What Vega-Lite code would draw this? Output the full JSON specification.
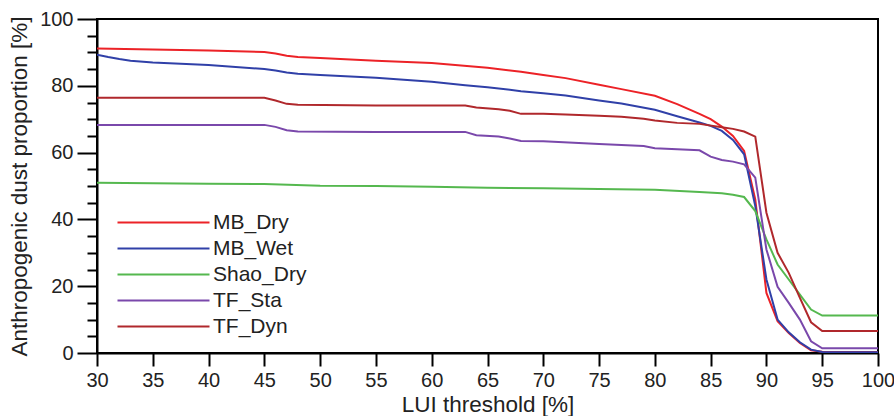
{
  "$schema": "https://vega.github.io/schema/vega-lite/v6.json",
  "width": 781,
  "height": 334,
  "autosize": "none",
  "padding": {"left": 97, "top": 19, "right": 16, "bottom": 63},
  "background": "white",
  "config": {"view": {"stroke": "black", "strokeWidth": 2}, "font": "Liberation Sans"},
  "data": {"values": [
    {"series":"MB_Dry","lui":30,"share":91.2},{"series":"MB_Dry","lui":35,"share":90.9},{"series":"MB_Dry","lui":40,"share":90.6},{"series":"MB_Dry","lui":45,"share":90.1},{"series":"MB_Dry","lui":46,"share":89.7},{"series":"MB_Dry","lui":47,"share":89.0},{"series":"MB_Dry","lui":48,"share":88.6},{"series":"MB_Dry","lui":50,"share":88.3},{"series":"MB_Dry","lui":55,"share":87.5},{"series":"MB_Dry","lui":60,"share":86.8},{"series":"MB_Dry","lui":65,"share":85.4},{"series":"MB_Dry","lui":68,"share":84.2},{"series":"MB_Dry","lui":70,"share":83.2},{"series":"MB_Dry","lui":72,"share":82.3},{"series":"MB_Dry","lui":75,"share":80.3},{"series":"MB_Dry","lui":77,"share":79.0},{"series":"MB_Dry","lui":80,"share":77.0},{"series":"MB_Dry","lui":82,"share":74.5},{"series":"MB_Dry","lui":84,"share":71.6},{"series":"MB_Dry","lui":85,"share":70.0},{"series":"MB_Dry","lui":86,"share":67.8},{"series":"MB_Dry","lui":87,"share":65.0},{"series":"MB_Dry","lui":88,"share":60.5},{"series":"MB_Dry","lui":89,"share":46},{"series":"MB_Dry","lui":90,"share":18},{"series":"MB_Dry","lui":91,"share":9.5},{"series":"MB_Dry","lui":92,"share":6},{"series":"MB_Dry","lui":93,"share":3},{"series":"MB_Dry","lui":94,"share":0.8},{"series":"MB_Dry","lui":95,"share":0.4},{"series":"MB_Dry","lui":100,"share":0.3},
    {"series":"MB_Wet","lui":30,"share":89.3},{"series":"MB_Wet","lui":31,"share":88.6},{"series":"MB_Wet","lui":32,"share":88.0},{"series":"MB_Wet","lui":33,"share":87.5},{"series":"MB_Wet","lui":35,"share":87.0},{"series":"MB_Wet","lui":38,"share":86.5},{"series":"MB_Wet","lui":40,"share":86.2},{"series":"MB_Wet","lui":45,"share":85.0},{"series":"MB_Wet","lui":46,"share":84.6},{"series":"MB_Wet","lui":47,"share":84.0},{"series":"MB_Wet","lui":48,"share":83.6},{"series":"MB_Wet","lui":50,"share":83.2},{"series":"MB_Wet","lui":55,"share":82.4},{"series":"MB_Wet","lui":60,"share":81.2},{"series":"MB_Wet","lui":63,"share":80.2},{"series":"MB_Wet","lui":65,"share":79.6},{"series":"MB_Wet","lui":68,"share":78.4},{"series":"MB_Wet","lui":70,"share":77.8},{"series":"MB_Wet","lui":72,"share":77.1},{"series":"MB_Wet","lui":75,"share":75.6},{"series":"MB_Wet","lui":77,"share":74.7},{"series":"MB_Wet","lui":80,"share":72.8},{"series":"MB_Wet","lui":82,"share":70.9},{"series":"MB_Wet","lui":84,"share":69.0},{"series":"MB_Wet","lui":85,"share":68.0},{"series":"MB_Wet","lui":86,"share":66.5},{"series":"MB_Wet","lui":87,"share":63.8},{"series":"MB_Wet","lui":88,"share":59.5},{"series":"MB_Wet","lui":89,"share":44},{"series":"MB_Wet","lui":90,"share":22},{"series":"MB_Wet","lui":91,"share":10},{"series":"MB_Wet","lui":92,"share":6.2},{"series":"MB_Wet","lui":93,"share":3.2},{"series":"MB_Wet","lui":94,"share":1},{"series":"MB_Wet","lui":95,"share":0.3},{"series":"MB_Wet","lui":100,"share":0.2},
    {"series":"Shao_Dry","lui":30,"share":51.0},{"series":"Shao_Dry","lui":35,"share":50.8},{"series":"Shao_Dry","lui":40,"share":50.7},{"series":"Shao_Dry","lui":45,"share":50.6},{"series":"Shao_Dry","lui":50,"share":50.1},{"series":"Shao_Dry","lui":55,"share":50.0},{"series":"Shao_Dry","lui":60,"share":49.8},{"series":"Shao_Dry","lui":65,"share":49.5},{"series":"Shao_Dry","lui":70,"share":49.3},{"series":"Shao_Dry","lui":75,"share":49.1},{"series":"Shao_Dry","lui":80,"share":48.9},{"series":"Shao_Dry","lui":84,"share":48.2},{"series":"Shao_Dry","lui":86,"share":47.8},{"series":"Shao_Dry","lui":87,"share":47.4},{"series":"Shao_Dry","lui":88,"share":46.7},{"series":"Shao_Dry","lui":89,"share":42.5},{"series":"Shao_Dry","lui":90,"share":34},{"series":"Shao_Dry","lui":91,"share":26.5},{"series":"Shao_Dry","lui":92,"share":22},{"series":"Shao_Dry","lui":93,"share":17.5},{"series":"Shao_Dry","lui":94,"share":13},{"series":"Shao_Dry","lui":95,"share":11.2},{"series":"Shao_Dry","lui":100,"share":11.2},
    {"series":"TF_Sta","lui":30,"share":68.3},{"series":"TF_Sta","lui":45,"share":68.3},{"series":"TF_Sta","lui":46,"share":67.7},{"series":"TF_Sta","lui":47,"share":66.7},{"series":"TF_Sta","lui":48,"share":66.3},{"series":"TF_Sta","lui":55,"share":66.2},{"series":"TF_Sta","lui":63,"share":66.2},{"series":"TF_Sta","lui":64,"share":65.2},{"series":"TF_Sta","lui":66,"share":64.8},{"series":"TF_Sta","lui":67,"share":64.2},{"series":"TF_Sta","lui":68,"share":63.5},{"series":"TF_Sta","lui":70,"share":63.4},{"series":"TF_Sta","lui":75,"share":62.6},{"series":"TF_Sta","lui":79,"share":62.0},{"series":"TF_Sta","lui":80,"share":61.3},{"series":"TF_Sta","lui":84,"share":60.7},{"series":"TF_Sta","lui":85,"share":58.8},{"series":"TF_Sta","lui":86,"share":57.8},{"series":"TF_Sta","lui":87,"share":57.3},{"series":"TF_Sta","lui":88,"share":56.5},{"series":"TF_Sta","lui":89,"share":52.5},{"series":"TF_Sta","lui":90,"share":31},{"series":"TF_Sta","lui":91,"share":19.8},{"series":"TF_Sta","lui":92,"share":15},{"series":"TF_Sta","lui":93,"share":10},{"series":"TF_Sta","lui":94,"share":3.5},{"series":"TF_Sta","lui":95,"share":1.4},{"series":"TF_Sta","lui":100,"share":1.4},
    {"series":"TF_Dyn","lui":30,"share":76.4},{"series":"TF_Dyn","lui":45,"share":76.4},{"series":"TF_Dyn","lui":46,"share":75.6},{"series":"TF_Dyn","lui":47,"share":74.6},{"series":"TF_Dyn","lui":48,"share":74.3},{"series":"TF_Dyn","lui":55,"share":74.1},{"series":"TF_Dyn","lui":63,"share":74.1},{"series":"TF_Dyn","lui":64,"share":73.5},{"series":"TF_Dyn","lui":66,"share":73.0},{"series":"TF_Dyn","lui":67,"share":72.5},{"series":"TF_Dyn","lui":68,"share":71.6},{"series":"TF_Dyn","lui":70,"share":71.6},{"series":"TF_Dyn","lui":72,"share":71.4},{"series":"TF_Dyn","lui":75,"share":71.0},{"series":"TF_Dyn","lui":77,"share":70.7},{"series":"TF_Dyn","lui":79,"share":70.1},{"series":"TF_Dyn","lui":80,"share":69.6},{"series":"TF_Dyn","lui":82,"share":68.9},{"series":"TF_Dyn","lui":84,"share":68.6},{"series":"TF_Dyn","lui":86,"share":67.6},{"series":"TF_Dyn","lui":87,"share":67.1},{"series":"TF_Dyn","lui":88,"share":66.3},{"series":"TF_Dyn","lui":89,"share":64.8},{"series":"TF_Dyn","lui":90,"share":42},{"series":"TF_Dyn","lui":91,"share":30},{"series":"TF_Dyn","lui":92,"share":24},{"series":"TF_Dyn","lui":93,"share":16.5},{"series":"TF_Dyn","lui":94,"share":9.2},{"series":"TF_Dyn","lui":95,"share":6.6},{"series":"TF_Dyn","lui":100,"share":6.6}
  ]},
  "mark": {"type": "line", "strokeWidth": 2, "clip": true},
  "encoding": {
    "x": {
      "field": "lui", "type": "quantitative",
      "scale": {"domain": [30, 100], "nice": false, "zero": false},
      "axis": {
        "title": "LUI threshold [%]",
        "values": [30,35,40,45,50,55,60,65,70,75,80,85,90,95,100],
        "grid": false, "labelFlush": false,
        "domainColor": "black", "domainWidth": 2,
        "tickColor": "black", "tickWidth": 2, "tickSize": 13,
        "labelFontSize": 20, "labelColor": "#222", "labelPadding": 4,
        "titleFontSize": 22.5, "titleFontWeight": "normal", "titleColor": "#222", "titlePadding": 3
      }
    },
    "y": {
      "field": "share", "type": "quantitative",
      "scale": {"domain": [0, 100], "nice": false},
      "axis": {
        "title": "Anthropogenic dust proportion [%]",
        "values": [0,5,10,15,20,25,30,35,40,45,50,55,60,65,70,75,80,85,90,95,100],
        "labelExpr": "datum.value % 20 === 0 ? datum.label : ''",
        "grid": false,
        "domainColor": "black", "domainWidth": 2,
        "tickColor": "black", "tickWidth": 2,
        "tickSize": {"condition": {"test": "datum.value % 20 === 0", "value": 20}, "value": 10},
        "labelFontSize": 20, "labelColor": "#222", "labelPadding": 4,
        "titleFontSize": 22.5, "titleFontWeight": "normal", "titleColor": "#222", "titlePadding": 8
      }
    },
    "color": {
      "field": "series", "type": "nominal",
      "scale": {
        "domain": ["MB_Dry", "MB_Wet", "Shao_Dry", "TF_Sta", "TF_Dyn"],
        "range": ["#ec2227", "#3040a8", "#55b84f", "#7a48ab", "#b0282c"]
      },
      "legend": {
        "orient": "none", "legendX": 56, "legendY": 193,
        "title": null, "padding": 0,
        "symbolType": "M-10,0H10", "symbolSize": 84.64, "symbolStrokeWidth": 2,
        "labelOffset": 39, "labelFontSize": 21, "labelColor": "#222",
        "rowPadding": 4
      }
    }
  }
}
